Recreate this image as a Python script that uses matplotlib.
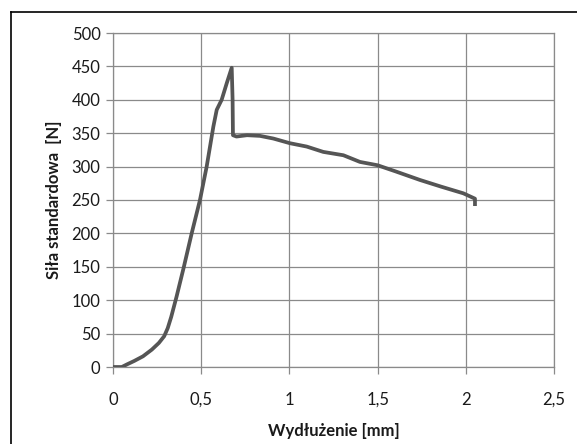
import matplotlib.pyplot as plt
from matplotlib.lines import Line2D
from matplotlib.ticker import FuncFormatter

# elongation [mm] and standard force [N]
wydluzenie = [0.0, 0.05, 0.08, 0.12, 0.17, 0.22, 0.26, 0.29, 0.31, 0.33, 0.36,
              0.40, 0.446, 0.493, 0.531, 0.569, 0.588, 0.616, 0.645, 0.673, 0.678,
              0.68, 0.70, 0.76, 0.833, 0.909, 1.003, 1.098, 1.192, 1.306, 1.40,
              1.50, 1.60, 1.74, 1.86, 1.986, 2.052, 2.052]
sila = [0, 0, 4, 9, 16, 26, 36, 46, 58, 75, 105,
        148, 200, 250, 300, 360, 385, 400, 425, 448, 400,
        347, 345, 347, 346, 342, 335, 330, 322, 317, 307,
        302, 293, 280, 270, 260, 252, 241]

x_ticks = [0, 0.5, 1, 1.5, 2, 2.5]
y_ticks = list(range(0, 501, 50))

plt.rcParams['font.family'] = ['Lato', 'DejaVu Sans']

fig = plt.figure(figsize=(5.77, 4.44), dpi=100)
ax = fig.add_axes([113 / 577, 1 - 367 / 444, 441 / 577, 334 / 444])

ax.plot(wydluzenie, sila, color='#555555', lw=2.7, solid_joinstyle='round',
        solid_capstyle='butt', zorder=3)

ax.set_xlim(0, 2.5)
ax.set_ylim(0, 500)
ax.set_xticks(x_ticks)
ax.set_yticks(y_ticks)
ax.xaxis.set_major_formatter(FuncFormatter(lambda v, p: f"{v:g}".replace('.', ',')))
ax.grid(True, color='#8a8a8a', lw=0.9)
ax.set_axisbelow(True)
for s in ax.spines.values():
    s.set_color('#8a8a8a')
    s.set_linewidth(0.9)
ax.tick_params(direction='out', length=5, width=0.9, color='#8a8a8a',
               labelsize=12, labelcolor='#1a1a1a', pad=4)
ax.tick_params(axis='x', pad=13)

ax.set_xlabel('Wydłużenie [mm]', fontsize=12, fontweight='bold', color='#1a1a1a', labelpad=11)
ax.set_ylabel('Siła standardowa  [N]', fontsize=12, fontweight='bold', color='#1a1a1a', labelpad=7)

# chart border (only top and left edges visible in the crop)
fig.add_artist(Line2D([11 / 577, 11 / 577], [0, 1 - 12 / 444], color='black', lw=1.2))
fig.add_artist(Line2D([11 / 577, 1], [1 - 12 / 444, 1 - 12 / 444], color='black', lw=1.2))

fig.savefig('out.png', dpi=100)
